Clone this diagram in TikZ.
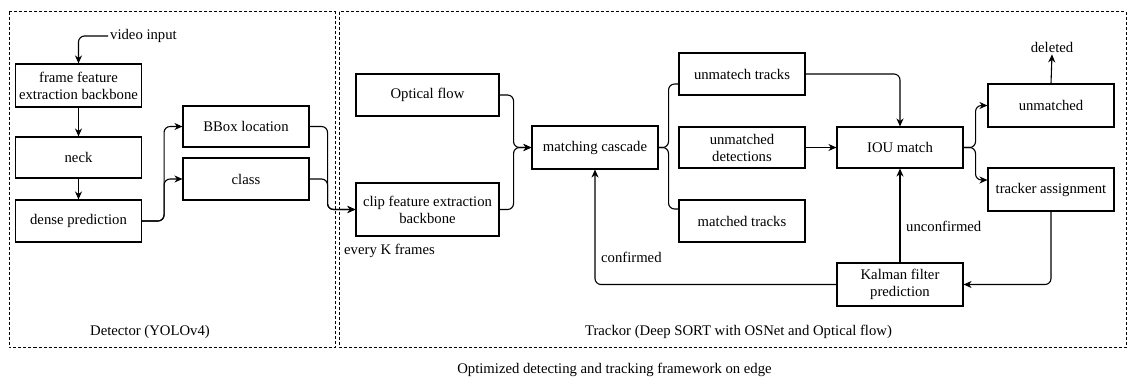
\documentclass[tikz,border=0pt]{standalone}
\usepackage{fontspec}
\setmainfont{Liberation Serif}
\usetikzlibrary{arrows.meta,calc}
\begin{document}
\begin{tikzpicture}[x=1pt,y=-1pt,
  font=\fontsize{14.7}{17}\selectfont,
  box/.style={draw, line width=1.1pt, align=center, inner sep=0pt,
              minimum width=126pt, minimum height=42pt},
  link/.style={line width=1.1pt, rounded corners=6pt},
  arr/.style={link, -{Stealth[length=8pt,width=7pt,inset=2.5pt]}},
  frame/.style={draw, line width=0.9pt, dash pattern=on 3pt off 2pt},
  lbl/.style={inner sep=2pt}
]
\useasboundingbox (0,0) rectangle (1128,381);

% dashed group frames
\draw[frame] (9,11.5) rectangle (335,347);
\draw[frame] (339,11.5) rectangle (1126,347);

% detector
\node[lbl, anchor=west] (vin) at (108,36) {video input};
\node[box, minimum height=43pt] (ffe) at (78.5,85.5) {frame feature\\extraction backbone};
\node[box, minimum height=41pt] (neck) at (78.5,157.5) {neck};
\node[box] (dense) at (78.5,221) {dense prediction};
\node[box, minimum height=41pt] (bbox) at (246,126.5) {BBox location};
\node[box] (cls) at (246,179) {class};

% tracker
\node[box, minimum width=143pt] (opt) at (427.5,95) {Optical flow};
\node[box, minimum width=143pt, minimum height=53pt] (clip) at (427.5,209.5) {clip feature extraction\\backbone};
\node[box, minimum height=43pt] (casc) at (595,147.5) {matching cascade};
\node[box] (ut) at (742,74) {unmatech tracks};
\node[box, minimum height=41pt] (ud) at (742,147.5) {unmatched\\detections};
\node[box] (mt) at (742,221) {matched tracks};
\node[box, minimum height=41pt] (iou) at (900,147.5) {IOU match};
\node[box, minimum height=43pt] (unm) at (1051,105.5) {unmatched};
\node[box, minimum height=43pt] (ta) at (1051,189.5) {tracker assignment};
\node[box, minimum height=43pt] (kal) at (900,284.5) {Kalman filter\\prediction};
\node[lbl] (del) at (1052,47) {deleted};

% labels
\node[lbl, anchor=west] (unc) at (904,226) {unconfirmed};
\node[lbl, anchor=west] (conf) at (599,257) {confirmed};
\node[lbl, anchor=west] (everyk) at (342,251) {every K frames};
\node[lbl] (detlbl) at (150,332) {Detector (YOLOv4)};
\node[lbl] (trklbl) at (738.5,332) {Trackor (Deep SORT with OSNet and Optical flow)};
\node[lbl] (caption) at (614.5,370) {Optimized detecting and tracking framework on edge};

% connectors
\draw[arr] (vin.west) -| (ffe.north);
\draw[arr] (ffe) -- (neck);
\draw[arr] (neck) -- (dense);
\draw[arr] (dense.east) -- ++(22,0) |- (bbox.west);
\draw[arr] (dense.east) -- ++(22,0) |- (cls.west);
\draw[arr] (bbox.east) -- ++(18,0) |- (clip.west);
\draw[arr] (cls.east) -- ++(18,0) |- (clip.west);
\draw[arr] (opt.east) -- ++(14,0) |- (casc.west);
\draw[arr] (clip.east) -- ++(14,0) |- (casc.west);
\draw[link] (casc.east) -- ++(10,0) |- ($(ut.west)+(0,10)$);
\draw[link] (casc.east) -- ++(10,0) |- ($(mt.west)+(0,-12)$);
\draw[arr] (ut.east) -| (iou.north);
\draw[arr] (ud) -- (iou);
\draw[arr] (iou.east) -- ++(12,0) |- (unm.west);
\draw[arr] (iou.east) -- ++(12,0) |- ($(ta.west)+(0,-9.5)$);
\draw[arr] (unm.north) -- (del.south);
\draw[arr] (ta.south) |- (kal.east);
\draw[arr] (kal) -- (iou);
\draw[arr] (kal.west) -| (casc.south);
\end{tikzpicture}
\end{document}
